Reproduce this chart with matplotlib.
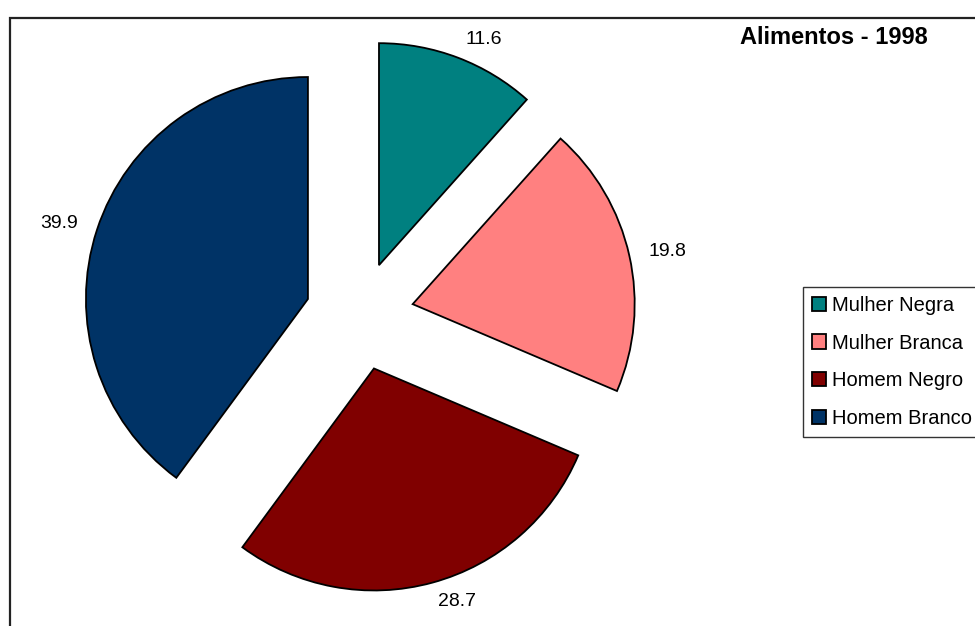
import matplotlib
matplotlib.use("Agg")
import matplotlib.pyplot as plt
from matplotlib.patches import Rectangle

plt.rcParams['font.family'] = ['Liberation Sans', 'DejaVu Sans']

categories = ["Mulher Negra", "Mulher Branca", "Homem Negro", "Homem Branco"]
values = [11.6, 19.8, 28.7, 39.9]
colors = ["#008080", "#FF8080", "#800000", "#003366"]
title = "Alimentos - 1998"

W, H = 975, 626
fig = plt.figure(figsize=(W / 100, H / 100), dpi=100)

# pie centre (pixels from left / bottom) and radius in pixels
cx, cy, rpx = 359.6, 310.0, 222.0
ax = fig.add_axes([0, 0, 1, 1])
wedges, texts = ax.pie(
    values,
    labels=[f"{v:.1f}" for v in values],
    colors=colors,
    startangle=90,
    counterclock=False,
    explode=[0.245] * len(values),
    labeldistance=1.09,
    wedgeprops=dict(edgecolor="black", linewidth=1.3),
    textprops=dict(fontsize=14, color="black"),
)
ax.set_xlim(-cx / rpx, (W - cx) / rpx)
ax.set_ylim(-cy / rpx, (H - cy) / rpx)
ax.set_aspect("auto")
ax.axis("off")

fig.text(834 / W, 1 - 38 / H, title, ha="center", va="center",
         fontsize=17, fontweight="bold")

leg = fig.legend(
    wedges, categories,
    loc="upper left",
    bbox_to_anchor=(803 / W, 1 - 287 / H),
    bbox_transform=fig.transFigure,
    borderaxespad=0,
    fontsize=14.5,
    frameon=True,
    fancybox=False,
    edgecolor="black",
    handlelength=0.7,
    handleheight=0.7,
    handletextpad=0.3,
    labelspacing=0.92,
    borderpad=0.45,
)
leg.get_frame().set_linewidth(1.0)

fig.add_artist(Rectangle((10 / W, -0.1), 1.2, (1 - 18 / H) + 0.1,
                         transform=fig.transFigure, fill=False,
                         linewidth=1.6, edgecolor="#222222"))

fig.savefig("out.png", dpi=100)
